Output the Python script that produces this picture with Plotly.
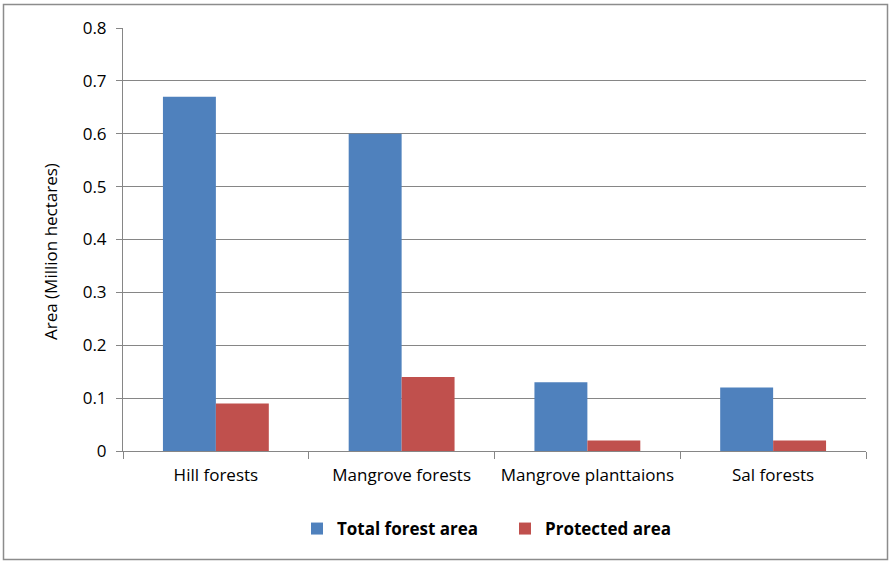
import plotly.graph_objects as go

categories = ["Hill forests", "Mangrove forests", "Mangrove planttaions", "Sal forests"]
total_forest = [0.67, 0.60, 0.13, 0.12]
protected = [0.09, 0.14, 0.02, 0.02]
series_names = ["Total forest area", "Protected area"]
y_title = "Area (Million hectares)"
y_ticks = [0, 0.1, 0.2, 0.3, 0.4, 0.5, 0.6, 0.7, 0.8]
y_ticktext = ["0", "0.1", "0.2", "0.3", "0.4", "0.5", "0.6", "0.7", "0.8"]

FONT = "Open Sans"
GRID = "#868686"

fig = go.Figure()
fig.add_trace(go.Bar(x=categories, y=total_forest, name=series_names[0],
                     marker=dict(color="#4F81BD", line=dict(width=0))))
fig.add_trace(go.Bar(x=categories, y=protected, name=series_names[1],
                     marker=dict(color="#C0504D", line=dict(width=0))))

L, R, T, B = 123, 25, 28, 111
W, H = 891, 562
pw, ph = W - L - R, H - T - B

fig.update_layout(
    width=W, height=H,
    margin=dict(l=L, r=R, t=T, b=B),
    paper_bgcolor="white", plot_bgcolor="white",
    barmode="group", bargap=0.43, bargroupgap=0,
    font=dict(family=FONT, size=17, color="black"),
    showlegend=True,
    legend=dict(orientation="h", x=(297 - L) / pw, xanchor="left", y=(451 - 529) / ph, yanchor="middle",
                font=dict(family=FONT, size=17, color="black", weight="bold"),
                itemwidth=30, entrywidth=163, entrywidthmode="pixels", traceorder="normal"),
    xaxis=dict(type="category", showline=True, linecolor=GRID, linewidth=1,
               ticks="outside", tickson="boundaries", ticklen=7, tickcolor=GRID,
               showgrid=False, tickfont=dict(size=17), ticklabelstandoff=9),
    yaxis=dict(range=[0, 0.8], tickvals=y_ticks, ticktext=y_ticktext,
               showline=True, linecolor=GRID, linewidth=1,
               ticks="outside", ticklen=6, tickcolor=GRID,
               showgrid=True, gridcolor=GRID, gridwidth=1, zeroline=False,
               tickfont=dict(size=17), ticklabelstandoff=6),
    annotations=[dict(text=y_title, textangle=-90, xref="paper", yref="paper",
                      x=(50 - L) / pw, y=(451 - 252) / ph, xanchor="center", yanchor="middle",
                      showarrow=False, font=dict(family=FONT, size=17, color="black"))],
    shapes=[dict(type="rect", xref="paper", yref="paper",
                 x0=(3.5 - L) / pw, x1=(887.5 - L) / pw,
                 y0=(451 - 559.5) / ph, y1=(451 - 4.5) / ph,
                 line=dict(color="#8C8C8C", width=1.5), fillcolor="rgba(0,0,0,0)", layer="below")],
)

fig.write_html("out.html")
